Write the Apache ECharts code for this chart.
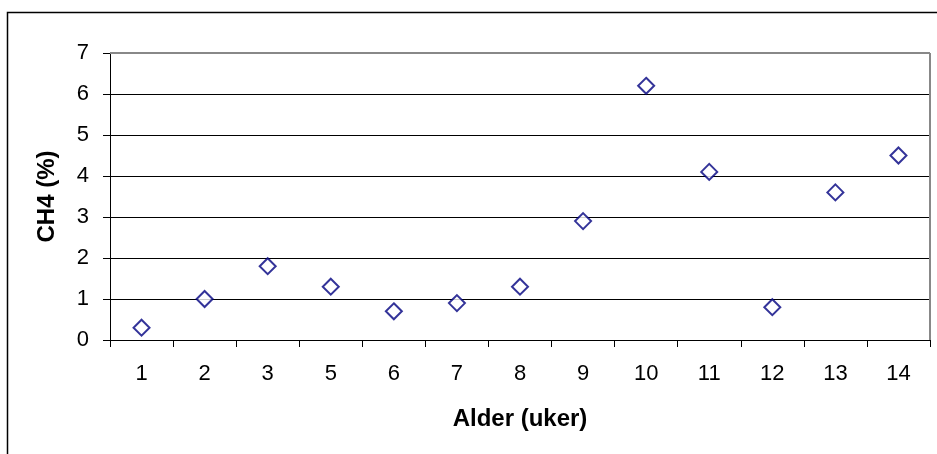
<!DOCTYPE html>
<html><head><meta charset="utf-8">
<script src="https://cdn.jsdelivr.net/npm/echarts@6/dist/echarts.min.js"></script>
<style>html,body{margin:0;padding:0;background:#fff}#c{width:937px;height:454px}</style>
</head><body><div id="c"></div>
<script>
const categories = ['1','2','3','5','6','7','8','9','10','11','12','13','14'];
const ch4 = [0.3, 1.0, 1.8, 1.3, 0.7, 0.9, 1.3, 2.9, 6.2, 4.1, 0.8, 3.6, 4.5];
const yTicks = [0,1,2,3,4,5,6,7];

const FONT = 'Liberation Sans, Arial, sans-serif';
const chart = echarts.init(document.getElementById('c'), null, {renderer:'canvas'});
chart.setOption({
  animation:false,
  backgroundColor:'#fff',
  textStyle:{fontFamily:FONT},
  graphic:[
    {type:'rect', shape:{x:7.5,y:12.5,width:1000,height:1000}, style:{fill:'none',stroke:'#000',lineWidth:1.5}, z:-1},
    {type:'line', shape:{x1:110,y1:53,x2:930,y2:53}, style:{stroke:'#888',lineWidth:2}, z:10},
    {type:'line', shape:{x1:930,y1:53,x2:930,y2:340}, style:{stroke:'#888',lineWidth:2}, z:10}
  ],
  grid:{left:110,right:7,top:53,bottom:114,containLabel:false},
  xAxis:{
    type:'category', data:categories, boundaryGap:true,
    name:'Alder (uker)', nameLocation:'middle', nameGap:67,
    nameTextStyle:{fontSize:24,fontWeight:'bold',color:'#000',fontFamily:FONT},
    axisLine:{lineStyle:{color:'#000',width:1}},
    axisTick:{show:true,length:7,alignWithLabel:false,lineStyle:{color:'#000'}},
    axisLabel:{fontSize:22,color:'#000',margin:23,fontFamily:FONT},
    splitLine:{show:false}
  },
  yAxis:{
    type:'value', min:yTicks[0], max:yTicks[yTicks.length-1], interval:1,
    name:'CH4 (%)', nameLocation:'middle', nameGap:51, nameRotate:90,
    nameTextStyle:{fontSize:24,fontWeight:'bold',color:'#000',fontFamily:FONT},
    axisLine:{show:true,lineStyle:{color:'#000',width:1}},
    axisTick:{show:true,length:7,lineStyle:{color:'#000'}},
    axisLabel:{fontSize:22,color:'#000',margin:21,fontFamily:FONT},
    splitLine:{show:true,lineStyle:{color:'#000',width:1}}
  },
  series:[{
    type:'scatter', data:ch4, symbol:'diamond', symbolSize:[16,16],
    itemStyle:{color:'#fff',borderColor:'#000080',borderWidth:2}
  }]
});
</script></body></html>
